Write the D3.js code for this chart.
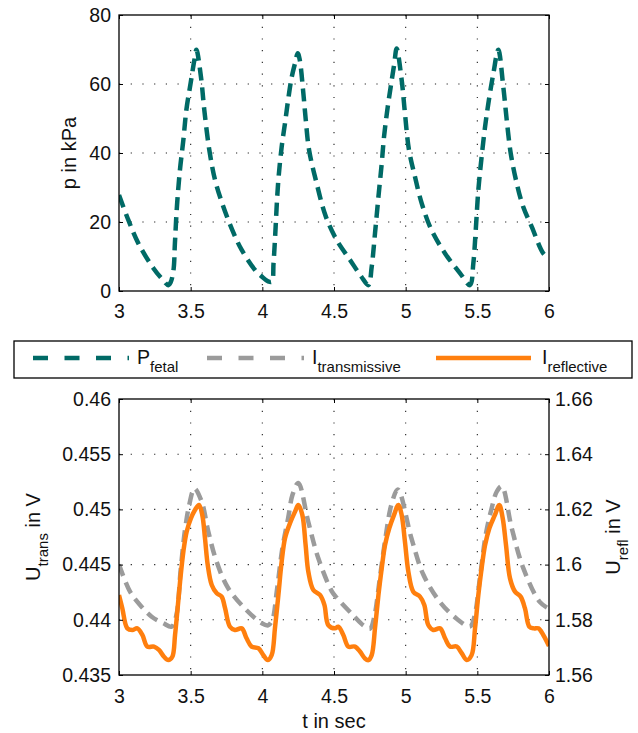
<!DOCTYPE html>
<html><head><meta charset="utf-8">
<script src="https://cdn.jsdelivr.net/npm/d3@7"></script>
<style>body{margin:0;background:#fff} text{font-family:"Liberation Sans",Arial,Helvetica,sans-serif;fill:#111}</style>
</head><body><svg id="c" width="638" height="733"></svg>
<script>
// ---------- data ----------
const tTicks = [3, 3.5, 4, 4.5, 5, 5.5, 6];
const pTicks = [0, 20, 40, 60, 80];
const uTransTicks = [0.435, 0.44, 0.445, 0.45, 0.455, 0.46];
const uReflTicks = [1.56, 1.58, 1.6, 1.62, 1.64, 1.66];

// P_fetal (kPa)
const pT = [3.00,3.065,3.135,3.24,3.30,3.344,3.36,3.38,3.39,3.405,3.425,3.449,3.47,3.50,3.526,3.54,3.572,3.595,3.63,3.67,3.72,3.79,3.856,3.949,3.996,4.04,4.066,4.078,4.088,4.11,4.135,4.158,4.18,4.205,4.228,4.247,4.261,4.284,4.303,4.326,4.379,4.442,4.521,4.612,4.69,4.74,4.763,4.786,4.81,4.833,4.849,4.875,4.903,4.921,4.937,4.972,4.995,5.023,5.065,5.112,5.18,5.275,5.38,5.449,5.472,5.489,5.507,5.53,5.554,5.577,5.612,5.646,5.681,5.705,5.733,5.775,5.82,5.88,5.96,6.00];
const pV = [27.8,20.6,13.8,6.6,3.5,1.7,2.5,6,13.8,25,35,43.8,52.5,60.3,67,69.9,62,52.5,40.9,32.2,25.4,17.7,11.9,6.1,4.2,2.8,2.7,8,14.8,31.2,41.8,48.6,55.4,62,66,68.9,67,58.3,49.6,40.9,31.2,21.7,14.6,9.0,4.2,1.7,7,16.7,27.3,37,44.7,53.4,61.2,66,70.3,61.2,51.5,40.9,33.1,25.4,17.7,10.9,5.1,1.7,8,17.7,29.3,38.9,47.6,54.4,63.1,69.9,59.2,49.6,39.9,31.2,24.4,18.6,10.9,9.5];

// I_transmissive (U_trans, V)
const trT = [3.00,3.077,3.147,3.228,3.31,3.367,3.40,3.43,3.46,3.49,3.526,3.577,3.623,3.68,3.76,3.88,3.995,4.04,4.07,4.10,4.14,4.18,4.21,4.251,4.32,4.39,4.484,4.519,4.635,4.705,4.751,4.78,4.82,4.86,4.90,4.945,5.04,5.123,5.24,5.356,5.449,5.48,5.52,5.56,5.60,5.635,5.67,5.74,5.82,5.937,6.00];
const trV = [0.4450,0.44255,0.44134,0.44028,0.43968,0.43938,0.4404,0.4445,0.4481,0.4504,0.4519,0.4507,0.4480,0.4453,0.4429,0.4410,0.4397,0.4395,0.4400,0.4425,0.4465,0.4492,0.4513,0.4524,0.4489,0.4456,0.4426,0.4420,0.4404,0.4395,0.4392,0.4402,0.4438,0.4475,0.4504,0.4518,0.4474,0.4441,0.4416,0.4401,0.4394,0.4403,0.4440,0.4478,0.4501,0.4516,0.4521,0.4483,0.4447,0.4416,0.4410];

// I_reflective (U_refl, V)
const rfT = [3.00,3.023,3.058,3.093,3.128,3.163,3.198,3.244,3.279,3.314,3.344,3.372,3.391,3.409,3.426,3.449,3.472,3.502,3.53,3.558,3.581,3.60,3.619,3.647,3.682,3.716,3.74,3.774,3.809,3.856,3.89,3.925,3.972,4.007,4.037,4.065,4.088,4.112,4.135,4.158,4.193,4.228,4.251,4.279,4.302,4.321,4.356,4.402,4.433,4.46,4.507,4.53,4.565,4.60,4.647,4.681,4.716,4.74,4.763,4.786,4.81,4.833,4.856,4.886,4.919,4.949,4.972,4.995,5.019,5.053,5.10,5.13,5.158,5.193,5.24,5.275,5.309,5.356,5.391,5.426,5.46,5.484,5.507,5.53,5.554,5.584,5.623,5.653,5.677,5.70,5.728,5.763,5.802,5.832,5.863,5.895,5.926,5.96,6.00];
const rfV = [1.5890,1.5842,1.5769,1.5763,1.5769,1.5745,1.5703,1.5703,1.5691,1.5666,1.5654,1.5666,1.5745,1.5842,1.5938,1.6047,1.6119,1.6168,1.6198,1.6216,1.6180,1.6095,1.5999,1.5926,1.5896,1.5884,1.5842,1.5775,1.5763,1.5769,1.5733,1.5703,1.5697,1.5672,1.5654,1.5672,1.5769,1.5890,1.6011,1.6095,1.6150,1.6192,1.6216,1.6180,1.6071,1.5974,1.5908,1.5890,1.5854,1.5781,1.5769,1.5775,1.5745,1.5703,1.5703,1.5685,1.5660,1.5654,1.5672,1.5769,1.5890,1.5987,1.6071,1.6132,1.6180,1.6216,1.6180,1.6083,1.5974,1.5902,1.5884,1.5854,1.5781,1.5763,1.5769,1.5733,1.5703,1.5703,1.5679,1.5654,1.5672,1.5769,1.5890,1.5987,1.6071,1.6132,1.6180,1.6216,1.6168,1.6071,1.5950,1.5902,1.5884,1.5842,1.5775,1.5769,1.5769,1.5745,1.5705];

// ---------- styles ----------
const C_TEAL = "#006a66", C_GRAY = "#9b9b9b", C_ORANGE = "#ff7f0e";
const FS = 19.5, FS_LBL = 20, FS_SUB = 15;

const svg = d3.select("#c");
const X0 = 119, X1 = 549;
const topP = {y0: 15, y1: 291};
const botP = {y0: 399, y1: 675};

const x = d3.scaleLinear().domain([3, 6]).range([X0, X1]);
const yP = d3.scaleLinear().domain([0, 80]).range([topP.y1, topP.y0]);
const yL = d3.scaleLinear().domain([0.435, 0.46]).range([botP.y1, botP.y0]);
const yR = d3.scaleLinear().domain([1.56, 1.66]).range([botP.y1, botP.y0]);

const defs = svg.append("defs");
defs.append("clipPath").attr("id","clipTop").append("rect").attr("x",X0).attr("y",topP.y0).attr("width",X1-X0).attr("height",topP.y1-topP.y0);
defs.append("clipPath").attr("id","clipBot").append("rect").attr("x",X0).attr("y",botP.y0).attr("width",X1-X0).attr("height",botP.y1-botP.y0);

function grid(yScale, yTicks, p) {
  const g = svg.append("g").attr("stroke","#222").attr("stroke-width",1.1).attr("stroke-dasharray","1.2,10.5");
  g.selectAll(".vg").data(tTicks.slice(1,-1)).join("line")
    .attr("x1",d=>x(d)).attr("x2",d=>x(d)).attr("y1",p.y0).attr("y2",p.y1);
  g.selectAll(".hg").data(yTicks.slice(1,-1)).join("line")
    .attr("x1",X0).attr("x2",X1).attr("y1",d=>yScale(d)).attr("y2",d=>yScale(d));
}

function styleAxis(g, showText) {
  g.select(".domain").remove();
  g.selectAll(".tick line").attr("stroke","#000").attr("stroke-width",1);
  g.selectAll(".tick text").attr("font-size",FS).attr("fill","#111")
    .style("font-family",'"Liberation Sans",Arial,sans-serif');
  if (!showText) g.selectAll(".tick text").remove();
}

function axes(yScale, yTicks, p, rightScale, rightTicks, xPad) {
  styleAxis(svg.append("g").attr("transform",`translate(0,${p.y1})`)
    .call(d3.axisBottom(x).tickValues(tTicks).tickSizeInner(-4).tickSizeOuter(0).tickPadding(xPad).tickFormat(d=>String(d))), true);
  styleAxis(svg.append("g").attr("transform",`translate(0,${p.y0})`)
    .call(d3.axisTop(x).tickValues(tTicks).tickSizeInner(-4).tickSizeOuter(0)), false);
  styleAxis(svg.append("g").attr("transform",`translate(${X0},0)`)
    .call(d3.axisLeft(yScale).tickValues(yTicks).tickSizeInner(-4).tickSizeOuter(0).tickPadding(8).tickFormat(d=>String(d))), true);
  if (rightScale) {
    styleAxis(svg.append("g").attr("transform",`translate(${X1},0)`)
      .call(d3.axisRight(rightScale).tickValues(rightTicks).tickSizeInner(-4).tickSizeOuter(0).tickPadding(6).tickFormat(d=>String(d))), true);
  } else {
    styleAxis(svg.append("g").attr("transform",`translate(${X1},0)`)
      .call(d3.axisRight(yScale).tickValues(yTicks).tickSizeInner(-4).tickSizeOuter(0)), false);
  }
  svg.append("rect").attr("x",X0).attr("y",p.y0).attr("width",X1-X0).attr("height",p.y1-p.y0)
    .attr("fill","none").attr("stroke","#000").attr("stroke-width",1.3);
}

// ---------- top plot ----------
grid(yP, pTicks, topP);
const pData = pT.map((t,i)=>[t,pV[i]]);
svg.append("path").datum(pData).attr("clip-path","url(#clipTop)")
  .attr("d", d3.line().x(d=>x(d[0])).y(d=>yP(d[1])).curve(d3.curveCatmullRom.alpha(0.5)))
  .attr("fill","none").attr("stroke",C_TEAL).attr("stroke-width",4.5).attr("stroke-dasharray","13,7");
axes(yP, pTicks, topP, null, null, 13);

svg.append("text").attr("transform",`translate(76,${(topP.y0+topP.y1)/2}) rotate(-90)`)
  .attr("text-anchor","middle").attr("font-size",FS_LBL).text("p in kPa");

// ---------- bottom plot ----------
grid(yL, uTransTicks, botP);
const trData = trT.map((t,i)=>[t,trV[i]]);
const rfData = rfT.map((t,i)=>[t,rfV[i]]);
svg.append("path").datum(trData).attr("clip-path","url(#clipBot)")
  .attr("d", d3.line().x(d=>x(d[0])).y(d=>yL(d[1])).curve(d3.curveCatmullRom.alpha(0.5)))
  .attr("fill","none").attr("stroke",C_GRAY).attr("stroke-width",4.5).attr("stroke-dasharray","12,7");
svg.append("path").datum(rfData).attr("clip-path","url(#clipBot)")
  .attr("d", d3.line().x(d=>x(d[0])).y(d=>yR(d[1])).curve(d3.curveCatmullRom.alpha(0.5)))
  .attr("fill","none").attr("stroke",C_ORANGE).attr("stroke-width",4.5).attr("stroke-linejoin","round");
axes(yL, uTransTicks, botP, yR, uReflTicks, 14);

function subLabel(xp, yp, main, sub, rest) {
  const t = svg.append("text").attr("transform",`translate(${xp},${yp}) rotate(-90)`)
    .attr("text-anchor","middle").attr("font-size",FS_LBL);
  t.append("tspan").text(main);
  t.append("tspan").attr("font-size",FS_SUB).attr("dy",8).text(sub);
  t.append("tspan").attr("dy",-8).text(rest);
}
subLabel(40, (botP.y0+botP.y1)/2, "U", "trans", " in V");
subLabel(620, (botP.y0+botP.y1)/2, "U", "refl", " in V");

svg.append("text").attr("x",(X0+X1)/2).attr("y",728).attr("text-anchor","middle")
  .attr("font-size",FS_LBL).text("t in sec");

// ---------- legend ----------
const lg = svg.append("g");
lg.append("rect").attr("x",14).attr("y",341).attr("width",618).attr("height",37)
  .attr("fill","#fff").attr("stroke","#000").attr("stroke-width",1.3);
const legendItems = [
  {x1:33, x2:129, color:C_TEAL, dash:"15,16.5", main:"P", sub:"fetal", tx:137},
  {x1:207, x2:304, color:C_GRAY, dash:"15,16.5", main:"I", sub:"transmissive", tx:312},
  {x1:436, x2:531, color:C_ORANGE, dash:null, main:"I", sub:"reflective", tx:542}
];
legendItems.forEach(it=>{
  lg.append("line").attr("x1",it.x1).attr("x2",it.x2).attr("y1",358).attr("y2",358)
    .attr("stroke",it.color).attr("stroke-width",4.5).attr("stroke-dasharray",it.dash);
  const t = lg.append("text").attr("x",it.tx).attr("y",364).attr("font-size",FS);
  t.append("tspan").text(it.main);
  t.append("tspan").attr("font-size",FS_SUB).attr("dy",8).text(it.sub);
});
</script></body></html>
